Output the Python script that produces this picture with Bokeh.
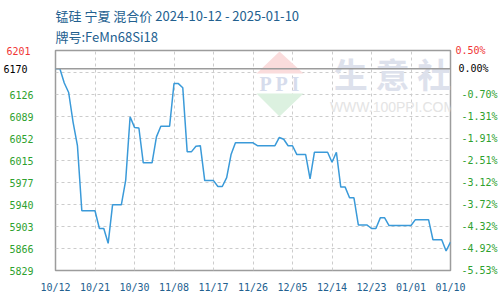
import pandas as pd
from bokeh.plotting import figure
from bokeh.models import (FixedTicker, LinearAxis, Span, Label, Title, PolyAnnotation,
                          DatetimeTickFormatter, Range1d)
from bokeh.embed import file_html
from bokeh.resources import INLINE

# ---- data -------------------------------------------------------------
dates = pd.date_range("2024-10-12", "2025-01-10", freq="D").strftime("%Y-%m-%d").tolist()
prices = [
    6170, 6170, 6146, 6130, 6080, 6040, 5930, 5930, 5930, 5930,   # 10/12-10/21
    5900, 5900, 5875, 5940, 5940, 5940, 5982, 6089, 6071, 6070,   # 10/22-10/31
    6011, 6011, 6011, 6055, 6073, 6073, 6073, 6145, 6145, 6138,   # 11/01-11/10
    6030, 6030, 6039, 6040, 5981, 5981, 5981, 5971, 5971, 5986,   # 11/11-11/20
    6025, 6045, 6045, 6045, 6045, 6045, 6040, 6040, 6040, 6040,   # 11/21-11/30
    6040, 6054, 6051, 6040, 6040, 6025, 6025, 6025, 5984, 6029,   # 12/01-12/10
    6029, 6029, 6029, 6012, 6029, 5970, 5970, 5952, 5952, 5906,   # 12/11-12/20
    5906, 5906, 5900, 5900, 5918, 5918, 5905, 5905, 5905, 5905,   # 12/21-12/30
    5905, 5905, 5915, 5915, 5915, 5915, 5881, 5881, 5881, 5862,   # 12/31-01/09
    5877,                                                         # 01/10
]
base_price = 6170
y_min, y_max = 5829, 6201

x_tick_dates = ["2024-10-12", "2024-10-21", "2024-10-30", "2024-11-08", "2024-11-17",
                "2024-11-26", "2024-12-05", "2024-12-14", "2024-12-23", "2025-01-01",
                "2025-01-10"]

grid_ticks = [5866.2, 5903.4, 5940.6, 5977.8, 6015.0, 6052.2, 6089.4, 6126.6, 6163.8]
left_ticks = [5829.0, 5866.2, 5903.4, 5940.6, 5977.8, 6015.0, 6052.2, 6089.4, 6126.6]
left_labels = ["5829", "5866", "5903", "5940", "5977", "6015", "6052", "6089", "6126"]
right_labels = ["-5.53%", "-4.92%", "-4.32%", "-3.72%", "-3.12%", "-2.51%", "-1.91%",
                "-1.31%", "-0.70%"]
top_label_left, top_label_right = "6201", "0.50%"
base_label_left, base_label_right = "6170", "0.00%"

title1 = "锰硅 宁夏 混合价 2024-10-12 - 2025-01-10"
title2 = "牌号:FeMn68Si18"

# ---- styles -----------------------------------------------------------
LINE = "#3a9ad9"
GREEN = "#2ea12e"
RED = "#f03535"
BLUE_TXT = "#22608f"
MONO = "DejaVu Sans Mono"
CJK = "Noto Sans CJK SC"

x = pd.to_datetime(dates)
x_start = pd.Timestamp(dates[0])
x_end = pd.Timestamp(dates[-1])
ms = lambda t: pd.Timestamp(t).value / 1e6

p = figure(width=500, height=300, output_backend="svg", toolbar_location=None,
           x_axis_type="datetime", title_location=None,
           x_range=Range1d(x_start, x_end), y_range=Range1d(y_min, y_max),
           min_border_left=50, min_border_right=50, min_border_top=50,
           min_border_bottom=30)
p.background_fill_color = "white"
p.border_fill_color = "white"
p.outline_line_color = "#9c9c9c"
p.outline_line_width = 1.5

# title (two lines)
p.add_layout(Title(text=title1 + "\n" + title2, align="left", text_font=CJK,
                   text_font_size="13px", text_font_style="normal", text_color=BLUE_TXT,
                   text_line_height=1.13, standoff=8), "above")

# watermark (screen units relative to frame)
p.add_layout(PolyAnnotation(xs=[201, 248, 224], ys=[197, 197, 219], xs_units="screen",
                            ys_units="screen", fill_color="#fadcdc", fill_alpha=1,
                            line_color=None, level="underlay"))
p.add_layout(PolyAnnotation(xs=[201, 248, 224], ys=[177, 177, 154], xs_units="screen",
                            ys_units="screen", fill_color="#dcf1e0", fill_alpha=1,
                            line_color=None, level="underlay"))
p.add_layout(Label(x=225, y=187, x_units="screen", y_units="screen", text="P P I",
                   text_align="center", text_baseline="middle", text_font="Liberation Serif",
                   text_font_size="20px", text_font_style="bold", text_color="#d6dcec",
                   level="underlay"))
p.add_layout(Label(x=337, y=197, x_units="screen", y_units="screen", text="生 意 社",
                   text_align="center", text_baseline="middle", text_font=CJK,
                   text_font_size="34px", text_font_style="bold", text_color="#dde1ec",
                   level="underlay"))
p.add_layout(Label(x=337, y=164, x_units="screen", y_units="screen", text="WWW.100PPI.COM",
                   text_align="center", text_baseline="middle", text_font="Liberation Sans",
                   text_font_size="14px", text_color="#e4e4e4", level="underlay"))

# grids
p.xgrid.ticker = FixedTicker(ticks=[ms(d) for d in x_tick_dates])
p.ygrid.ticker = FixedTicker(ticks=grid_ticks)
for g in (p.xgrid, p.ygrid):
    g.grid_line_color = "#cccccc"
    g.grid_line_dash = "3 3"
    g.grid_line_width = 1

# base line
p.add_layout(Span(location=base_price, dimension="width", line_color="#9c9c9c",
                  line_width=1.5))

# price line
p.line(x, prices, line_color=LINE, line_width=1.5)


def style_axis(ax, color, standoff):
    ax.major_label_text_font = MONO
    ax.major_label_text_font_size = "10px"
    ax.major_label_text_color = color
    ax.major_label_standoff = standoff
    ax.major_tick_out = 0
    ax.major_tick_in = 0
    ax.axis_line_color = None
    ax.major_tick_line_color = None
    ax.minor_tick_line_color = None


# x axis
xa = p.xaxis[0]
xa.ticker = FixedTicker(ticks=[ms(d) for d in x_tick_dates])
xa.formatter = DatetimeTickFormatter(days="%m/%d", months="%m/%d", years="%m/%d",
                                     hours="%m/%d")
style_axis(xa, BLUE_TXT, 11)

# left side: green axis next to the frame, then red and black (zero-width, same column)
ya = p.yaxis[0]
ya.ticker = FixedTicker(ticks=left_ticks)
ya.major_label_overrides = dict(zip(left_ticks, left_labels))
style_axis(ya, GREEN, 22)
for val, txt, col in [(y_max, top_label_left, RED), (base_price, base_label_left, "black")]:
    ax = LinearAxis(ticker=FixedTicker(ticks=[val]), major_label_overrides={val: txt})
    style_axis(ax, col, -24)
    p.add_layout(ax, "left")

# right side: red, black, then green (all labels start 5px right of the frame)
r_red = LinearAxis(ticker=FixedTicker(ticks=[y_max]),
                   major_label_overrides={y_max: top_label_right})
style_axis(r_red, RED, 5)
p.add_layout(r_red, "right")
r_blk = LinearAxis(ticker=FixedTicker(ticks=[base_price]),
                   major_label_overrides={base_price: base_label_right})
style_axis(r_blk, "black", -30)
p.add_layout(r_blk, "right")
r_grn = LinearAxis(ticker=FixedTicker(ticks=left_ticks),
                   major_label_overrides=dict(zip(left_ticks, right_labels)))
style_axis(r_grn, GREEN, -30)
p.add_layout(r_grn, "right")

open("out.html", "w").write(file_html(p, INLINE))
